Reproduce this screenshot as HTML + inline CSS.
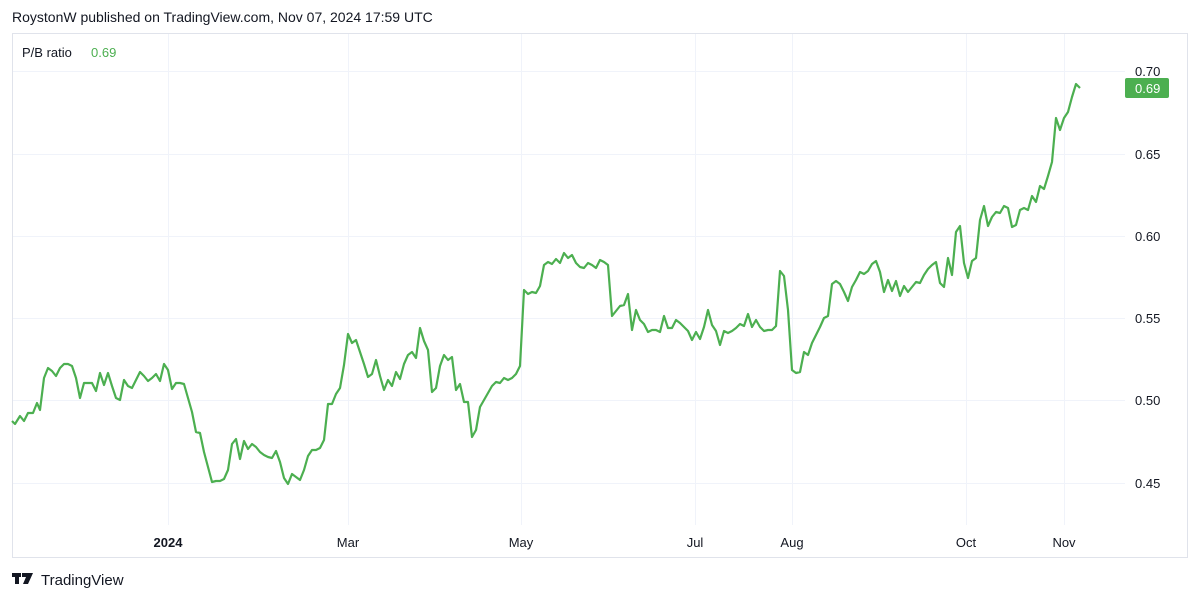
<!DOCTYPE html>
<html><head><meta charset="utf-8"><style>
body{margin:0;background:#fff;font-family:"Liberation Sans",sans-serif;}
</style></head><body>
<svg width="1200" height="601" xmlns="http://www.w3.org/2000/svg" font-family="Liberation Sans, sans-serif">
<rect width="1200" height="601" fill="#fff"/>
<text x="12" y="22" font-size="14" fill="#131722">RoystonW published on TradingView.com, Nov 07, 2024 17:59 UTC</text>
<rect x="12.5" y="33.5" width="1175" height="524" fill="none" stroke="#e0e3eb"/>
<g stroke="#f0f3fa" stroke-width="1">
<line x1="168.5" y1="34" x2="168.5" y2="525"/><line x1="348.5" y1="34" x2="348.5" y2="525"/>
<line x1="521.5" y1="34" x2="521.5" y2="525"/><line x1="695.5" y1="34" x2="695.5" y2="525"/>
<line x1="792.5" y1="34" x2="792.5" y2="525"/><line x1="966.5" y1="34" x2="966.5" y2="525"/>
<line x1="1064.5" y1="34" x2="1064.5" y2="525"/>
<line x1="13" y1="71.5" x2="1125" y2="71.5"/><line x1="13" y1="154.5" x2="1125" y2="154.5"/>
<line x1="13" y1="236.5" x2="1125" y2="236.5"/><line x1="13" y1="318.5" x2="1125" y2="318.5"/>
<line x1="13" y1="400.5" x2="1125" y2="400.5"/><line x1="13" y1="483.5" x2="1125" y2="483.5"/>
</g>
<text x="22" y="57" font-size="13" fill="#131722">P/B ratio</text>
<text x="91" y="57" font-size="13" fill="#4caf50">0.69</text>
<g font-size="13" fill="#131722">
<text x="1135" y="76">0.70</text><text x="1135" y="159">0.65</text><text x="1135" y="241">0.60</text>
<text x="1135" y="323">0.55</text><text x="1135" y="405">0.50</text><text x="1135" y="488">0.45</text>
</g>
<rect x="1125" y="78" width="44" height="20" rx="2" fill="#4caf50"/>
<text x="1135" y="93" font-size="13" fill="#fff">0.69</text>
<g font-size="13" fill="#131722" text-anchor="middle">
<text x="168" y="547" font-weight="bold">2024</text><text x="348" y="547">Mar</text>
<text x="521" y="547">May</text><text x="695" y="547">Jul</text><text x="792" y="547">Aug</text>
<text x="966" y="547">Oct</text><text x="1064" y="547">Nov</text>
</g>
<polyline fill="none" stroke="#4caf50" stroke-width="2.2" stroke-linejoin="round" points="12,421 15,424 20,416 24,421 28,413 33,413 37,403 40,410 44,378 48,368 52,371 56,376 60,368 64,364 68,364 72,366 76,378 80,398 84,383 88,383 92,383 96,391 100,373 104,385 108,373 112,386 116,398 120,400 124,380 128,386 132,388 136,380 140,372 144,376 148,381 152,378 156,374 160,381 164,364 168,370 172,389 176,383 180,383 184,384 188,398 192,412 196,432 200,433 204,452 208,467 212,482 216,481 220,481 224,479 228,470 232,444 236,439 240,459 244,441 248,449 252,444 256,447 260,452 264,455 268,457 272,458 276,451 280,462 284,478 288,484 292,474 296,477 300,480 304,470 308,456 312,450 316,450 320,448 324,440 328,404 332,404 336,394 340,388 344,365 348,334 352,343 356,340 360,352 364,364 368,377 372,374 376,360 380,376 384,390 388,380 392,386 396,372 400,379 404,364 408,355 412,352 416,358 420,328 424,341 428,350 432,392 436,388 440,366 444,355 448,360 452,357 456,390 460,384 464,402 468,402 472,437 476,430 480,407 484,400 488,393 492,386 496,382 500,383 504,378 508,380 512,378 516,374 520,366 524,290 528,294 532,292 536,293 540,286 544,265 548,262 552,264 556,259 560,263 564,253 568,258 572,255 576,263 580,267 584,268 588,263 592,265 596,268 600,260 604,262 608,265 612,316 616,311 620,306 624,305 628,294 632,330 636,310 640,320 644,324 648,332 652,330 656,330 660,332 664,316 668,328 672,328 676,320 680,323 684,327 688,331 692,340 696,332 700,339 704,327 708,310 712,325 716,331 720,345 724,331 728,333 732,331 736,328 740,324 744,326 748,314 752,327 756,320 760,327 764,331 768,330 772,330 776,326 780,271 784,276 788,310 792,370 796,373 800,372 804,352 808,355 812,343 816,335 820,327 824,318 828,316 832,284 836,281 840,284 844,292 848,301 852,287 856,280 860,272 864,274 868,271 872,264 876,261 880,272 884,292 888,280 892,291 896,281 900,296 904,286 908,292 912,287 916,282 920,283 924,275 928,269 932,265 936,262 940,283 944,287 948,258 952,275 956,232 960,226 964,263 968,278 972,261 976,258 980,220 984,206 988,226 992,217 996,212 1000,213 1004,206 1008,208 1012,227 1016,225 1020,210 1024,208 1028,210 1032,196 1036,202 1040,186 1044,189 1048,176 1052,162 1056,118 1060,130 1064,118 1068,112 1072,97 1076,84 1080,88"/>
<g fill="#131722">
<rect x="12" y="573" width="9" height="4"/><rect x="15" y="573" width="4" height="11"/>
<polygon points="22,573 33,573 28,584 23,584 26,577 22,577"/>
</g>
<text x="41" y="585" font-size="15" fill="#131722">TradingView</text>
</svg>
</body></html>
